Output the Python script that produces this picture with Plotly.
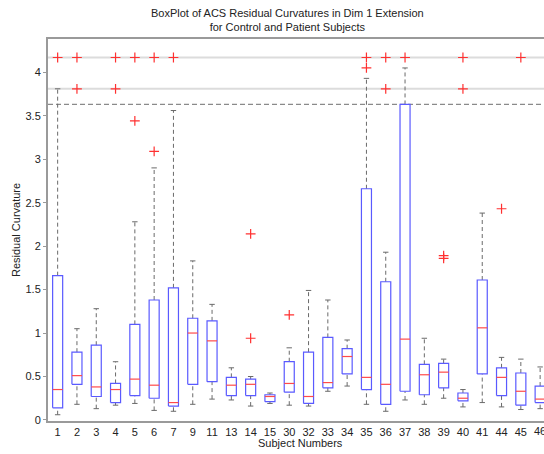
import plotly.graph_objects as go

subjects = ["1", "2", "3", "4", "5", "6", "7", "9", "11", "13", "14", "15", "30",
            "32", "33", "34", "35", "36", "37", "38", "39", "40", "41", "44", "45", "46"]
lower_whisker = [0.06, 0.18, 0.13, 0.17, 0.19, 0.11, 0.10, 0.18, 0.24, 0.23, 0.16, 0.19, 0.17,
                 0.16, 0.33, 0.39, 0.18, 0.10, 0.23, 0.18, 0.25, 0.15, 0.20, 0.15, 0.12, 0.13]
q1 = [0.14, 0.41, 0.27, 0.20, 0.28, 0.25, 0.16, 0.41, 0.44, 0.28, 0.28, 0.21, 0.32,
      0.19, 0.37, 0.53, 0.35, 0.18, 0.33, 0.29, 0.37, 0.22, 0.53, 0.28, 0.17, 0.20]
median = [0.35, 0.51, 0.38, 0.35, 0.47, 0.40, 0.20, 1.00, 0.91, 0.40, 0.41, 0.27, 0.42,
          0.27, 0.43, 0.73, 0.49, 0.41, 0.93, 0.52, 0.55, 0.25, 1.06, 0.49, 0.33, 0.24]
q3 = [1.66, 0.78, 0.86, 0.42, 1.10, 1.38, 1.52, 1.17, 1.14, 0.49, 0.47, 0.29, 0.67,
      0.78, 0.95, 0.82, 2.66, 1.59, 3.63, 0.64, 0.65, 0.31, 1.61, 0.60, 0.54, 0.39]
upper_whisker = [3.81, 1.05, 1.28, 0.67, 2.28, 2.90, 3.56, 1.83, 1.33, 0.60, 0.50, 0.31, 0.83,
                 1.49, 1.38, 0.92, 3.93, 1.93, 4.05, 0.94, 0.70, 0.35, 2.38, 0.72, 0.70, 0.61]
outliers = {
    "1": [4.17], "2": [4.17, 3.81], "4": [4.17, 3.81], "5": [4.17, 3.44],
    "6": [4.17, 3.09], "7": [4.17], "14": [2.14, 0.94], "30": [1.21],
    "35": [4.17, 4.05], "36": [4.17, 3.81], "37": [4.17], "39": [1.89, 1.86],
    "40": [4.17, 3.81], "44": [2.43], "45": [4.17],
}
solid_ref_lines = [4.17, 3.81]
dashed_ref_lines = [3.63]
y_ticks = [0, 0.5, 1, 1.5, 2, 2.5, 3, 3.5, 4]
y_tick_labels = ["0", "0.5", "1", "1.5", "2", "2.5", "3", "3.5", "4"]

HALF = 0.26
CAP = 0.14
X0, X1 = -0.5, 25.2
FONT = "Liberation Sans, Arial, sans-serif"
OUT_RED = "#ff3030"

pos = list(range(len(subjects)))
fig = go.Figure()

# reference lines across the axes
for yv in solid_ref_lines:
    fig.add_trace(go.Scatter(x=[X0, X1], y=[yv, yv], mode="lines",
                             line=dict(color="#dcdcdc", width=2)))
for yv in dashed_ref_lines:
    fig.add_trace(go.Scatter(x=[X0, X1], y=[yv, yv], mode="lines",
                             line=dict(color="#8a8a8a", width=1.3, dash="5px,3px")))

# whiskers (dashed) and caps
wx, wy, cx, cy = [], [], [], []
for p, lw, a, b, uw in zip(pos, lower_whisker, q1, q3, upper_whisker):
    wx += [p, p, None, p, p, None]
    wy += [b, uw, None, lw, a, None]
    cx += [p - CAP, p + CAP, None, p - CAP, p + CAP, None]
    cy += [uw, uw, None, lw, lw, None]
fig.add_trace(go.Scatter(x=wx, y=wy, mode="lines",
                         line=dict(color="#6a6a6a", width=1, dash="4px,3px")))
fig.add_trace(go.Scatter(x=cx, y=cy, mode="lines",
                         line=dict(color="#6a6a6a", width=1)))

# boxes
bx, by = [], []
for p, a, b in zip(pos, q1, q3):
    bx += [p - HALF, p + HALF, p + HALF, p - HALF, p - HALF, None]
    by += [a, a, b, b, a, None]
fig.add_trace(go.Scatter(x=bx, y=by, mode="lines",
                         line=dict(color="#5a5aff", width=1.2)))

# medians
mx, my = [], []
for p, m in zip(pos, median):
    mx += [p - HALF, p + HALF, None]
    my += [m, m, None]
fig.add_trace(go.Scatter(x=mx, y=my, mode="lines",
                         line=dict(color="#ff4a4a", width=1.2)))

# outliers
ox, oy = [], []
for s, vals in outliers.items():
    for v in vals:
        ox.append(subjects.index(s))
        oy.append(v)
fig.add_trace(go.Scatter(x=ox, y=oy, mode="markers",
                         marker=dict(symbol="cross-thin", size=7,
                                     color=OUT_RED,
                                     line=dict(color=OUT_RED, width=1.2))))

fig.update_layout(
    width=544, height=454,
    margin=dict(l=48, r=0, t=39, b=33),
    paper_bgcolor="white", plot_bgcolor="white",
    showlegend=False, hovermode=False,
    font=dict(family=FONT, size=11, color="#222"),
    xaxis=dict(range=[X0, X1], tickmode="array", tickvals=pos[:-1], ticktext=subjects[:-1],
               showgrid=False, zeroline=False, showline=True, mirror=True,
               linecolor="#9a9a9a", linewidth=2, ticks="", tickfont=dict(size=11, color="#222")),
    yaxis=dict(range=[-0.012, 4.383], tickmode="array", tickvals=y_ticks, ticktext=y_tick_labels,
               showgrid=False, zeroline=False, showline=True, mirror=False,
               linecolor="#9a9a9a", linewidth=2, ticks="outside", ticklen=3,
               tickcolor="#9a9a9a", tickfont=dict(size=11, color="#222")),
    annotations=[
        dict(text="BoxPlot of ACS Residual Curvatures in Dim 1 Extension<br>for Control and Patient Subjects",
             xref="paper", yref="paper", x=(287 - 48) / 496, y=1, yshift=4,
             xanchor="center", yanchor="bottom", showarrow=False,
             font=dict(size=11, color="#222")),
        dict(text="Subject Numbers", xref="paper", yref="paper", x=(300 - 48) / 496, y=0,
             yshift=-14, xanchor="center", yanchor="top", showarrow=False,
             font=dict(size=11, color="#222")),
        dict(text="Residual Curvature", xref="paper", yref="paper", x=0, xshift=-32, y=0.5,
             textangle=-90, xanchor="center", yanchor="middle", showarrow=False,
             font=dict(size=11, color="#222")),
        # last tick label, which sits on the cropped right edge
        dict(text=subjects[-1], xref="x", yref="paper", x=pos[-1], y=0, yshift=-2,
             xanchor="center", yanchor="top", showarrow=False,
             font=dict(size=11, color="#222")),
    ],
)

fig.write_html("out.html", config={"displayModeBar": False, "staticPlot": True},
               post_script="document.body.style.margin='0';document.body.style.overflow='hidden';")
